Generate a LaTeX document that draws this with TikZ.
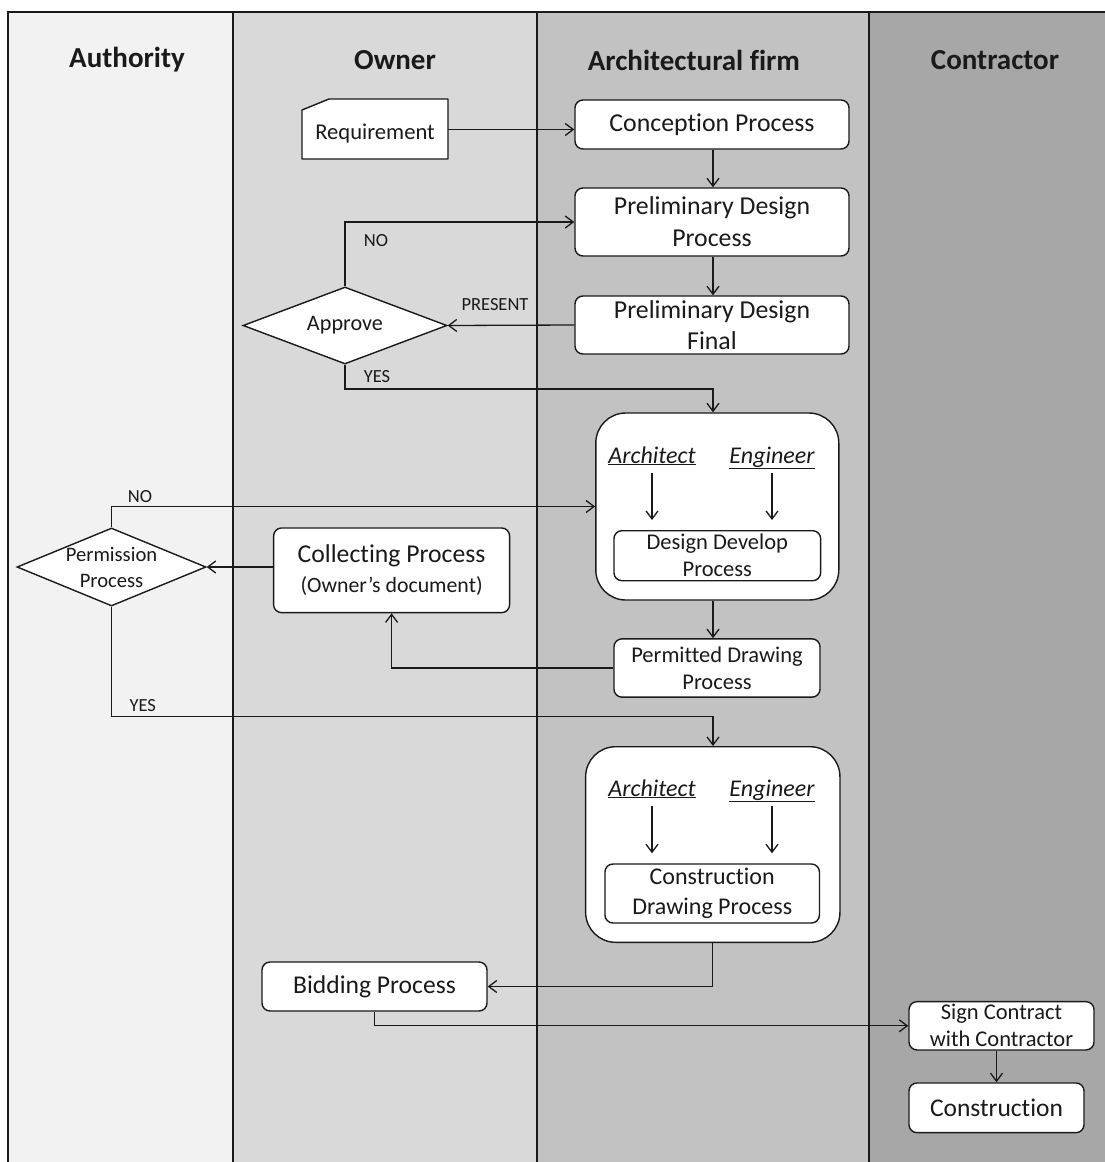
\documentclass[tikz,border=0pt]{standalone}
\usepackage{fontspec}
\setmainfont{Carlito}[Ligatures=NoCommon]
\usetikzlibrary{arrows.meta,shapes.geometric}

\newcommand{\fsz}[2]{\fontsize{#1}{#2}\selectfont}

\definecolor{laneA}{HTML}{F2F2F2}
\definecolor{laneO}{HTML}{D9D9D9}
\definecolor{laneF}{HTML}{C2C2C2}
\definecolor{laneC}{HTML}{A7A7A7}
\definecolor{ink}{HTML}{1A1A1A}

\tikzset{
  lanerule/.style={draw=ink, line width=1.5pt},
  hdr/.style={font=\bfseries\fsz{29}{34}, text=ink},
  box/.style={draw=ink, fill=white, line width=1.4pt, rounded corners=8pt,
              inner sep=0pt, align=center, text=ink},
  bigbox/.style={box, rounded corners=30pt},
  dia/.style={diamond, draw=ink, fill=white, line width=1.4pt, inner sep=0pt},
  role/.style={font=\itshape\fsz{24}{28}, text=ink, inner sep=0pt, anchor=base},
  lbl/.style={font=\fsz{18.5}{22}, text=ink, inner sep=0pt},
  conn/.style={draw=ink, line width=1.3pt},
  arr/.style={conn, -{Straight Barb[length=8pt,width=12pt,line width=1.3pt]}},
}

\begin{document}
\begin{tikzpicture}[x=1pt,y=-1pt]
\useasboundingbox (0,0) rectangle (1105,1162);
\fill[white] (0,0) rectangle (1105,1162);

% swim lanes
\fill[laneA] (8,12) rectangle (233,1162);
\fill[laneO] (233,12) rectangle (537,1162);
\fill[laneF] (537,12) rectangle (869,1162);
\fill[laneC] (869,12) rectangle (1105,1162);
\draw[lanerule] (8,1162) -- (8,12) -- (1105,12);
\draw[lanerule] (233,12) -- (233,1162);
\draw[lanerule] (537,12) -- (537,1162);
\draw[lanerule] (869,12) -- (869,1162);

\node[hdr] (hA) at (127,60) {Authority};
\node[hdr] (hO) at (395,60) {Owner};
\node[hdr] (hF) at (694,60) {Architectural firm};
\node[hdr] (hC) at (995,60) {Contractor};

% column of the firm's connectors
\coordinate (col) at (713,0);

% owner's requirement card
\fill[white] (302,110) -- (329,99) -- (448,99) -- (448,159) -- (302,159) -- cycle;
\draw[draw=ink, line width=1.4pt, line join=round] (302,110) -- (329,99) -- (448,99) -- (448,159) -- (302,159) -- cycle;
\node[minimum width=146pt, minimum height=60pt, inner sep=0pt,
      label={[font=\fsz{22.6}{26}, text=ink, yshift=-4pt]center:Requirement}] (req) at (375,129.5) {};

% design stages
\node[box, font=\fsz{25.8}{31}, minimum width=274pt, minimum height=49pt] (conc) at (712,124.5) {Conception Process};
\node[box, font=\fsz{25.8}{32}, minimum width=274pt, minimum height=68pt] (pdp) at (712,222) {Preliminary Design\\Process};
\node[box, font=\fsz{25.8}{31}, minimum width=274pt, minimum height=58pt] (pdf) at (712,325) {Preliminary Design\\Final};

\node[dia, minimum width=204pt, minimum height=77pt,
      label={[font=\fsz{22.2}{26}, text=ink]center:Approve}] (appr) at (345,325.5) {};

% design development
\node[bigbox, minimum width=243pt, minimum height=187pt] (ddbig) at (717.3,506.5) {};
\node[role] (arch1) at (652,463) {\underline{Architect}};
\node[role] (eng1) at (772,463) {\underline{Engineer}};
\node[box, font=\fsz{22.5}{27}, minimum width=206.7pt, minimum height=50pt] (dd) at (717.3,555.7) {Design Develop\\Process};

\node[box, font=\fsz{22.5}{27}, minimum width=206pt, minimum height=58.3pt] (pdw) at (717,668) {Permitted Drawing\\Process};

\node[box, font=\fsz{25.7}{30}, minimum width=236pt, minimum height=84.7pt] (coll) at (391.6,570.3)
  {Collecting Process\\{\fsz{21.8}{30}(Owner’s document)}};

\node[dia, minimum width=189pt, minimum height=78pt,
      label={[font=\fsz{20.6}{26}, text=ink, align=center]center:Permission\\Process}] (perm) at (111.5,567) {};

% construction drawings
\node[bigbox, minimum width=254.3pt, minimum height=195.6pt] (cdbig) at (712.8,844.5) {};
\node[role] (arch2) at (652,796) {\underline{Architect}};
\node[role] (eng2) at (772,796) {\underline{Engineer}};
\node[box, font=\fsz{24}{30}, minimum width=214.5pt, minimum height=59pt] (cd) at (712.2,893.5) {Construction\\Drawing Process};

\node[box, font=\fsz{25.6}{30}, minimum width=225pt, minimum height=49pt] (bid) at (374.5,986.5) {Bidding Process};

\node[box, font=\fsz{22.5}{27}, minimum width=185pt, minimum height=48.3pt] (sign) at (1001.5,1025.8) {Sign Contract\\with Contractor};
\node[box, font=\fsz{25.5}{30}, minimum width=175pt, minimum height=49.7pt] (cons) at (996.5,1107.8) {Construction};

% connectors
\draw[arr] (req.east) -- (req.east -| conc.west);
\draw[arr] (conc.south -| col) -- (pdp.north -| col);
\draw[arr] (pdp.south -| col) -- (pdf.north -| col);
\draw[arr] (pdf.west) -- (appr.east);
\draw[arr] (appr.north) |- (pdp.west);
\coordinate (yes1) at (713,389);
\draw[arr] (appr.south) |- (yes1) -- (yes1 |- ddbig.north);

\draw[arr, shorten >=10pt] ([yshift=-10pt]arch1.base) -- (arch1.base |- dd.north);
\draw[arr, shorten >=10pt] ([yshift=-10pt]eng1.base) -- (eng1.base |- dd.north);

\draw[arr] (perm.north) |- (ddbig.west);
\draw[arr] (coll.west |- perm.east) -- (perm.east);
\draw[arr] (ddbig.south -| col) -- (pdw.north -| col);
\draw[arr] (pdw.west) -| (coll.south);
\coordinate (yes2) at (713,716.7);
\draw[arr] (perm.south) |- (yes2) -- (yes2 |- cdbig.north);

\draw[arr, shorten >=10pt] ([yshift=-10pt]arch2.base) -- (arch2.base |- cd.north);
\draw[arr, shorten >=10pt] ([yshift=-10pt]eng2.base) -- (eng2.base |- cd.north);

\draw[arr] (cdbig.south) |- (bid.east);
\draw[arr] (bid.south) |- (sign.west);
\draw[arr] (sign.south -| cons.north) -- (cons.north);

% branch labels
\node[lbl] (lpres) at (495,305) {PRESENT};
\node[lbl] (lno1) at (376,241) {NO};
\node[lbl] (lyes1) at (377,377) {YES};
\node[lbl] (lno2) at (140,497) {NO};
\node[lbl] (lyes2) at (142.7,705.7) {YES};
\end{tikzpicture}
\end{document}
